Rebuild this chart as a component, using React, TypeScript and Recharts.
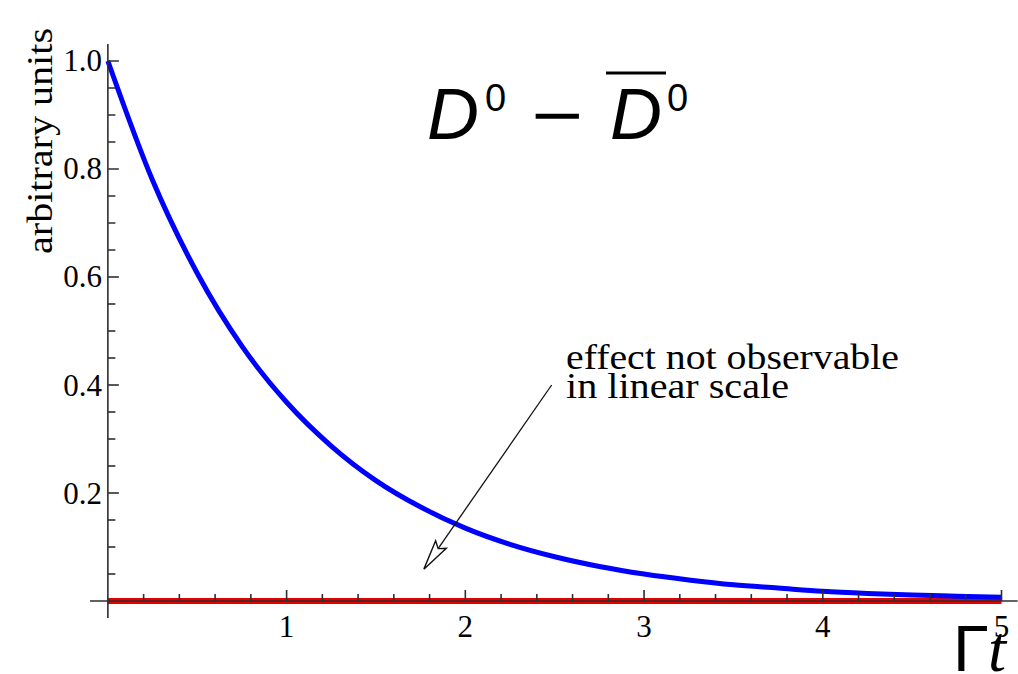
import React from "react";
import {
  ComposedChart,
  Line,
  Scatter,
  XAxis,
  YAxis,
  ReferenceLine,
} from "recharts";

// Decay time in units of 1/Γ
const tValues = [
  0, 0.25, 0.5, 0.75, 1, 1.25, 1.5, 1.75, 2, 2.25, 2.5, 2.75, 3, 3.25, 3.5,
  3.75, 4, 4.25, 4.5, 4.75, 5,
];
// D0 rate (blue)
const d0Values = [
  1.0, 0.779, 0.607, 0.472, 0.368, 0.287, 0.223, 0.174, 0.135, 0.105, 0.082,
  0.064, 0.05, 0.039, 0.03, 0.024, 0.018, 0.014, 0.011, 0.009, 0.007,
];
// D0 - D0bar difference (red)
const diffValues = [
  0, 0, 0, 0, 0, 0, 0, 0, 0, 0, 0, 0, 0, 0, 0, 0, 0, 0, 0, 0, 0,
];

const xMajorTicks = [1, 2, 3, 4, 5];
const xMinorTicks = [
  0.2, 0.4, 0.6, 0.8, 1.2, 1.4, 1.6, 1.8, 2.2, 2.4, 2.6, 2.8, 3.2, 3.4, 3.6,
  3.8, 4.2, 4.4, 4.6, 4.8,
];
const yMajorTicks = [0.2, 0.4, 0.6, 0.8, 1.0];
const yMinorTicks = [
  0.05, 0.1, 0.15, 0.25, 0.3, 0.35, 0.45, 0.5, 0.55, 0.65, 0.7, 0.75, 0.85,
  0.9, 0.95,
];

// Annotation arrow: from the text down toward the flat red curve
const arrowFrom = { t: 2.483, v: 0.4 };
const arrowTo = { t: 1.768, v: 0.059 };

const rows = tValues.map((t, i) => ({ t, d0: d0Values[i], diff: diffValues[i] }));
const xMajorPts = xMajorTicks.map((t) => ({ t, v: 0 }));
const xMinorPts = xMinorTicks.map((t) => ({ t, v: 0 }));
const yMajorPts = yMajorTicks.map((v) => ({ t: 0, v }));
const yMinorPts = yMinorTicks.map((v) => ({ t: 0, v }));

const AXIS = "#2e2e2e";
const SERIF = "'Liberation Serif', 'Times New Roman', serif";
const SANS = "'Liberation Sans', Arial, sans-serif";

const vTick = (len: number) => (p: any) =>
  <line x1={p.cx} x2={p.cx} y1={p.cy} y2={p.cy - len} stroke={AXIS} strokeWidth={1.6} />;
const hTick = (len: number) => (p: any) =>
  <line x1={p.cx} x2={p.cx + len} y1={p.cy} y2={p.cy} stroke={AXIS} strokeWidth={1.6} />;

const XTickLabel = (p: any) => (
  <text x={p.x} y={p.y + 19} textAnchor="middle" fontFamily={SERIF} fontSize={31} fill="#000">
    {p.payload.value}
  </text>
);
const YTickLabel = (p: any) => (
  <text x={p.x + 12} y={p.y + 10.5} textAnchor="end" fontFamily={SERIF} fontSize={31} fill="#000">
    {Number(p.payload.value).toFixed(1)}
  </text>
);

const ArrowShape = (p: any) => {
  const { x1, y1, x2, y2 } = p;
  const dx = x1 - x2;
  const dy = y1 - y2;
  const len = Math.hypot(dx, dy) || 1;
  const ux = dx / len;
  const uy = dy / len;
  const px = -uy;
  const py = ux;
  const head = 30;
  const notch = 25;
  const half = 6.5;
  const bx = x2 + ux * head;
  const by = y2 + uy * head;
  const nx = x2 + ux * notch;
  const ny = y2 + uy * notch;
  const pts = [
    [x2, y2],
    [bx + px * half, by + py * half],
    [nx, ny],
    [bx - px * half, by - py * half],
  ]
    .map((q) => q.join(","))
    .join(" ");
  return (
    <g>
      <line x1={x1} y1={y1} x2={nx} y2={ny} stroke="#111" strokeWidth={1.3} />
      <polygon points={pts} fill="#fff" stroke="#111" strokeWidth={1.4} strokeLinejoin="miter" />
    </g>
  );
};

export default function App() {
  return (
    <div style={{ position: "absolute", left: 0, top: 0, width: 1018, height: 674, background: "#fff" }}>
      <ComposedChart
        width={1018}
        height={674}
        data={rows}
        margin={{ top: 44, right: 0.4, bottom: 0, left: 0 }}
      >
        <XAxis
          dataKey="t"
          type="number"
          domain={[-0.1, 5.09]}
          allowDataOverflow
          ticks={xMajorTicks}
          axisLine={false}
          tickLine={false}
          tickSize={0}
          tickMargin={0}
          height={56}
          tick={<XTickLabel />}
          interval={0}
        />
        <YAxis
          type="number"
          domain={[-0.03148, 1.03148]}
          allowDataOverflow
          ticks={yMajorTicks}
          axisLine={false}
          tickLine={false}
          tickSize={0}
          tickMargin={0}
          width={90}
          tick={<YTickLabel />}
          interval={0}
        />
        <Line
          dataKey="diff"
          type="monotone"
          stroke="#e60000"
          strokeWidth={6}
          dot={false}
          isAnimationActive={false}
        />
        <Line
          dataKey="d0"
          type="monotone"
          stroke="#0000ff"
          strokeWidth={5}
          dot={false}
          isAnimationActive={false}
        />
        <ReferenceLine y={0} stroke={AXIS} strokeWidth={1.6} />
        <ReferenceLine x={0} stroke={AXIS} strokeWidth={1.6} />
        <Scatter data={xMajorPts} dataKey="v" shape={vTick(11)} isAnimationActive={false} />
        <Scatter data={xMinorPts} dataKey="v" shape={vTick(7)} isAnimationActive={false} />
        <Scatter data={yMajorPts} dataKey="v" shape={hTick(11)} isAnimationActive={false} />
        <Scatter data={yMinorPts} dataKey="v" shape={hTick(7.5)} isAnimationActive={false} />
        <ReferenceLine
          segment={[
            { x: arrowFrom.t, y: arrowFrom.v },
            { x: arrowTo.t, y: arrowTo.v },
          ]}
          shape={ArrowShape}
        />
      </ComposedChart>
      <svg
        width={1018}
        height={674}
        style={{ position: "absolute", left: 0, top: 0, pointerEvents: "none" }}
      >
        <text
          transform="translate(52,141) rotate(-90)"
          textAnchor="middle"
          fontFamily={SERIF}
          fontSize={35}
          textLength={226}
          lengthAdjust="spacingAndGlyphs"
        >
          arbitrary units
        </text>
        <text x={566} y={369} fontFamily={SERIF} fontSize={36} textLength={333} lengthAdjust="spacingAndGlyphs">
          effect not observable
        </text>
        <text x={566} y={397.5} fontFamily={SERIF} fontSize={36} textLength={223} lengthAdjust="spacingAndGlyphs">
          in linear scale
        </text>
        <text x={427} y={139} fontFamily={SANS} fontStyle="italic" fontSize={72}>D</text>
        <text x={485} y={111} fontFamily={SANS} fontSize={38}>0</text>
        <text x={531} y={140} fontFamily={SANS} fontSize={72} textLength={52} lengthAdjust="spacingAndGlyphs">−</text>
        <line x1={606} x2={666} y1={73} y2={73} stroke="#000" strokeWidth={3} />
        <text x={610} y={139} fontFamily={SANS} fontStyle="italic" fontSize={72}>D</text>
        <text x={667} y={111} fontFamily={SANS} fontSize={38}>0</text>
        <text x={953} y={671} fontFamily={SANS} fontSize={65}>Γ</text>
        <text x={988} y={671} fontFamily={SERIF} fontStyle="italic" fontSize={65}>t</text>
      </svg>
    </div>
  );
}
